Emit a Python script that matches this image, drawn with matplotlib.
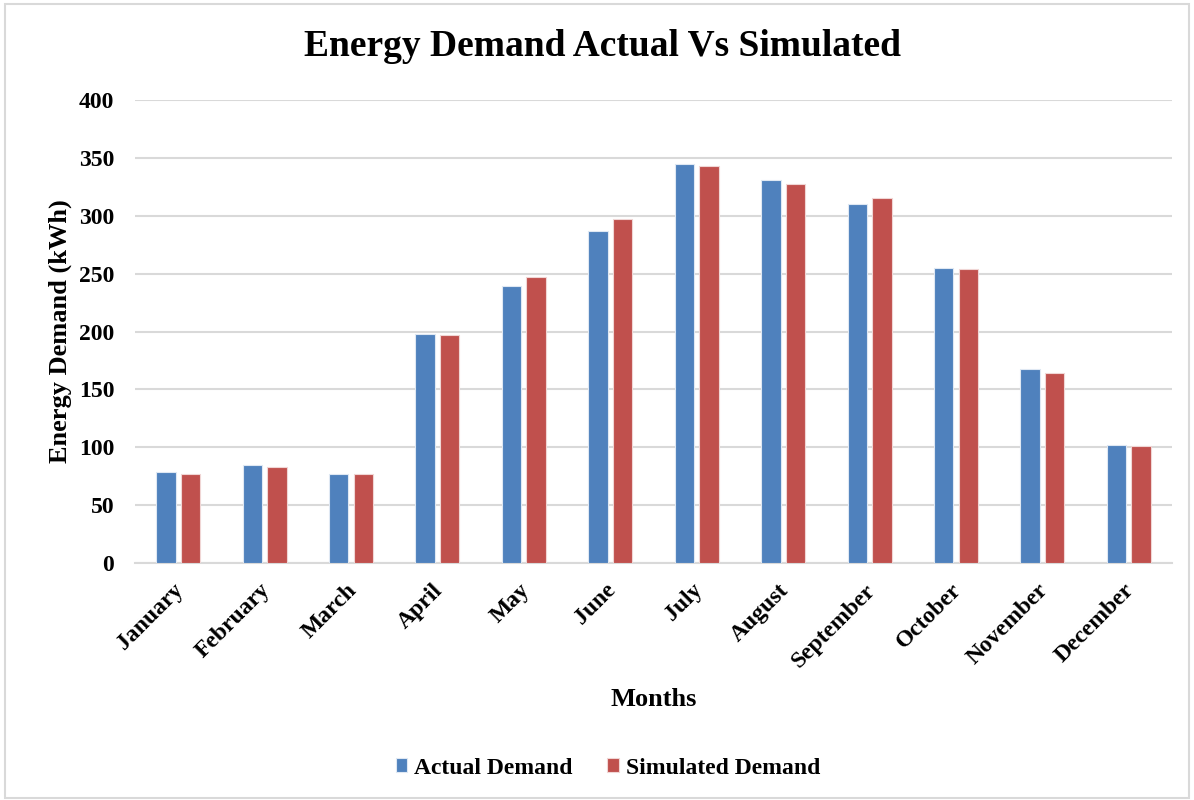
import matplotlib.pyplot as plt
import matplotlib.transforms as mtransforms
import numpy as np
from matplotlib.patches import Rectangle

months = ["January", "February", "March", "April", "May", "June",
          "July", "August", "September", "October", "November", "December"]
actual = [79, 85, 77, 198, 239, 287, 345, 331, 310, 255, 168, 102]
simulated = [77, 83, 77, 197, 247, 297, 343, 327, 315, 254, 164, 101]

plt.rcParams["font.family"] = ["Liberation Serif", "DejaVu Serif"]
plt.rcParams["font.weight"] = "bold"

fig = plt.figure(figsize=(11.94, 8), dpi=100)
ax = fig.add_axes([135 / 1194, 1 - 563 / 800, (1172 - 135) / 1194, (563 - 100) / 800])

x = np.arange(len(months))
w = 0.225
ax.bar(x - 0.142, actual, w, color="#4F81BD", edgecolor="#dfe8f3", linewidth=0.8,
       label="Actual Demand", zorder=3)
ax.bar(x + 0.142, simulated, w, color="#C0504D", edgecolor="#f0d6d5", linewidth=0.8,
       label="Simulated Demand", zorder=3)

ax.set_xlim(-0.5, len(months) - 0.5)
ax.set_ylim(0, 400)
ax.set_yticks(np.arange(0, 401, 50))
ax.yaxis.grid(True, color="#d9d9d9", linewidth=1.5, zorder=0)
ax.set_axisbelow(True)
for s in ["top", "right", "left"]:
    ax.spines[s].set_visible(False)
ax.spines["bottom"].set_color("#d9d9d9")
ax.spines["bottom"].set_linewidth(1.5)
ax.tick_params(length=0, labelsize=17, pad=15)
ax.tick_params(axis="x", pad=12)

ax.set_xticks(x)
ax.set_xticklabels(months, rotation=45, ha="right", rotation_mode="anchor",
                   fontweight="bold")
# nudge the slanted month names a little to the left
shift = mtransforms.ScaledTranslation(-5 / 100, 0, fig.dpi_scale_trans)
for t in ax.get_xticklabels():
    t.set_transform(t.get_transform() + shift)
for t in ax.get_yticklabels():
    t.set_fontweight("bold")

ax.set_xlabel("Months", fontsize=19, fontweight="bold", labelpad=12)
ax.set_ylabel("Energy Demand (kWh)", fontsize=19, fontweight="bold", labelpad=5)
fig.suptitle("Energy Demand Actual Vs Simulated", fontsize=27, fontweight="bold",
             x=603 / 1194, y=1 - 47 / 800, va="center")

fig.legend(loc="center", bbox_to_anchor=(608 / 1194, 1 - 768 / 800), ncol=2,
           frameon=False, handlelength=0.5, handleheight=0.5,
           handletextpad=0.3, columnspacing=1.45, prop={"weight": "bold", "size": 17})

# light gray border around the whole figure
fig.patches.append(Rectangle((5 / 1194, 2 / 800), 1 - 10 / 1194, 1 - 6 / 800,
                             transform=fig.transFigure, fill=False,
                             edgecolor="#d9d9d9", linewidth=1.5))

fig.savefig("out.png", dpi=100)
